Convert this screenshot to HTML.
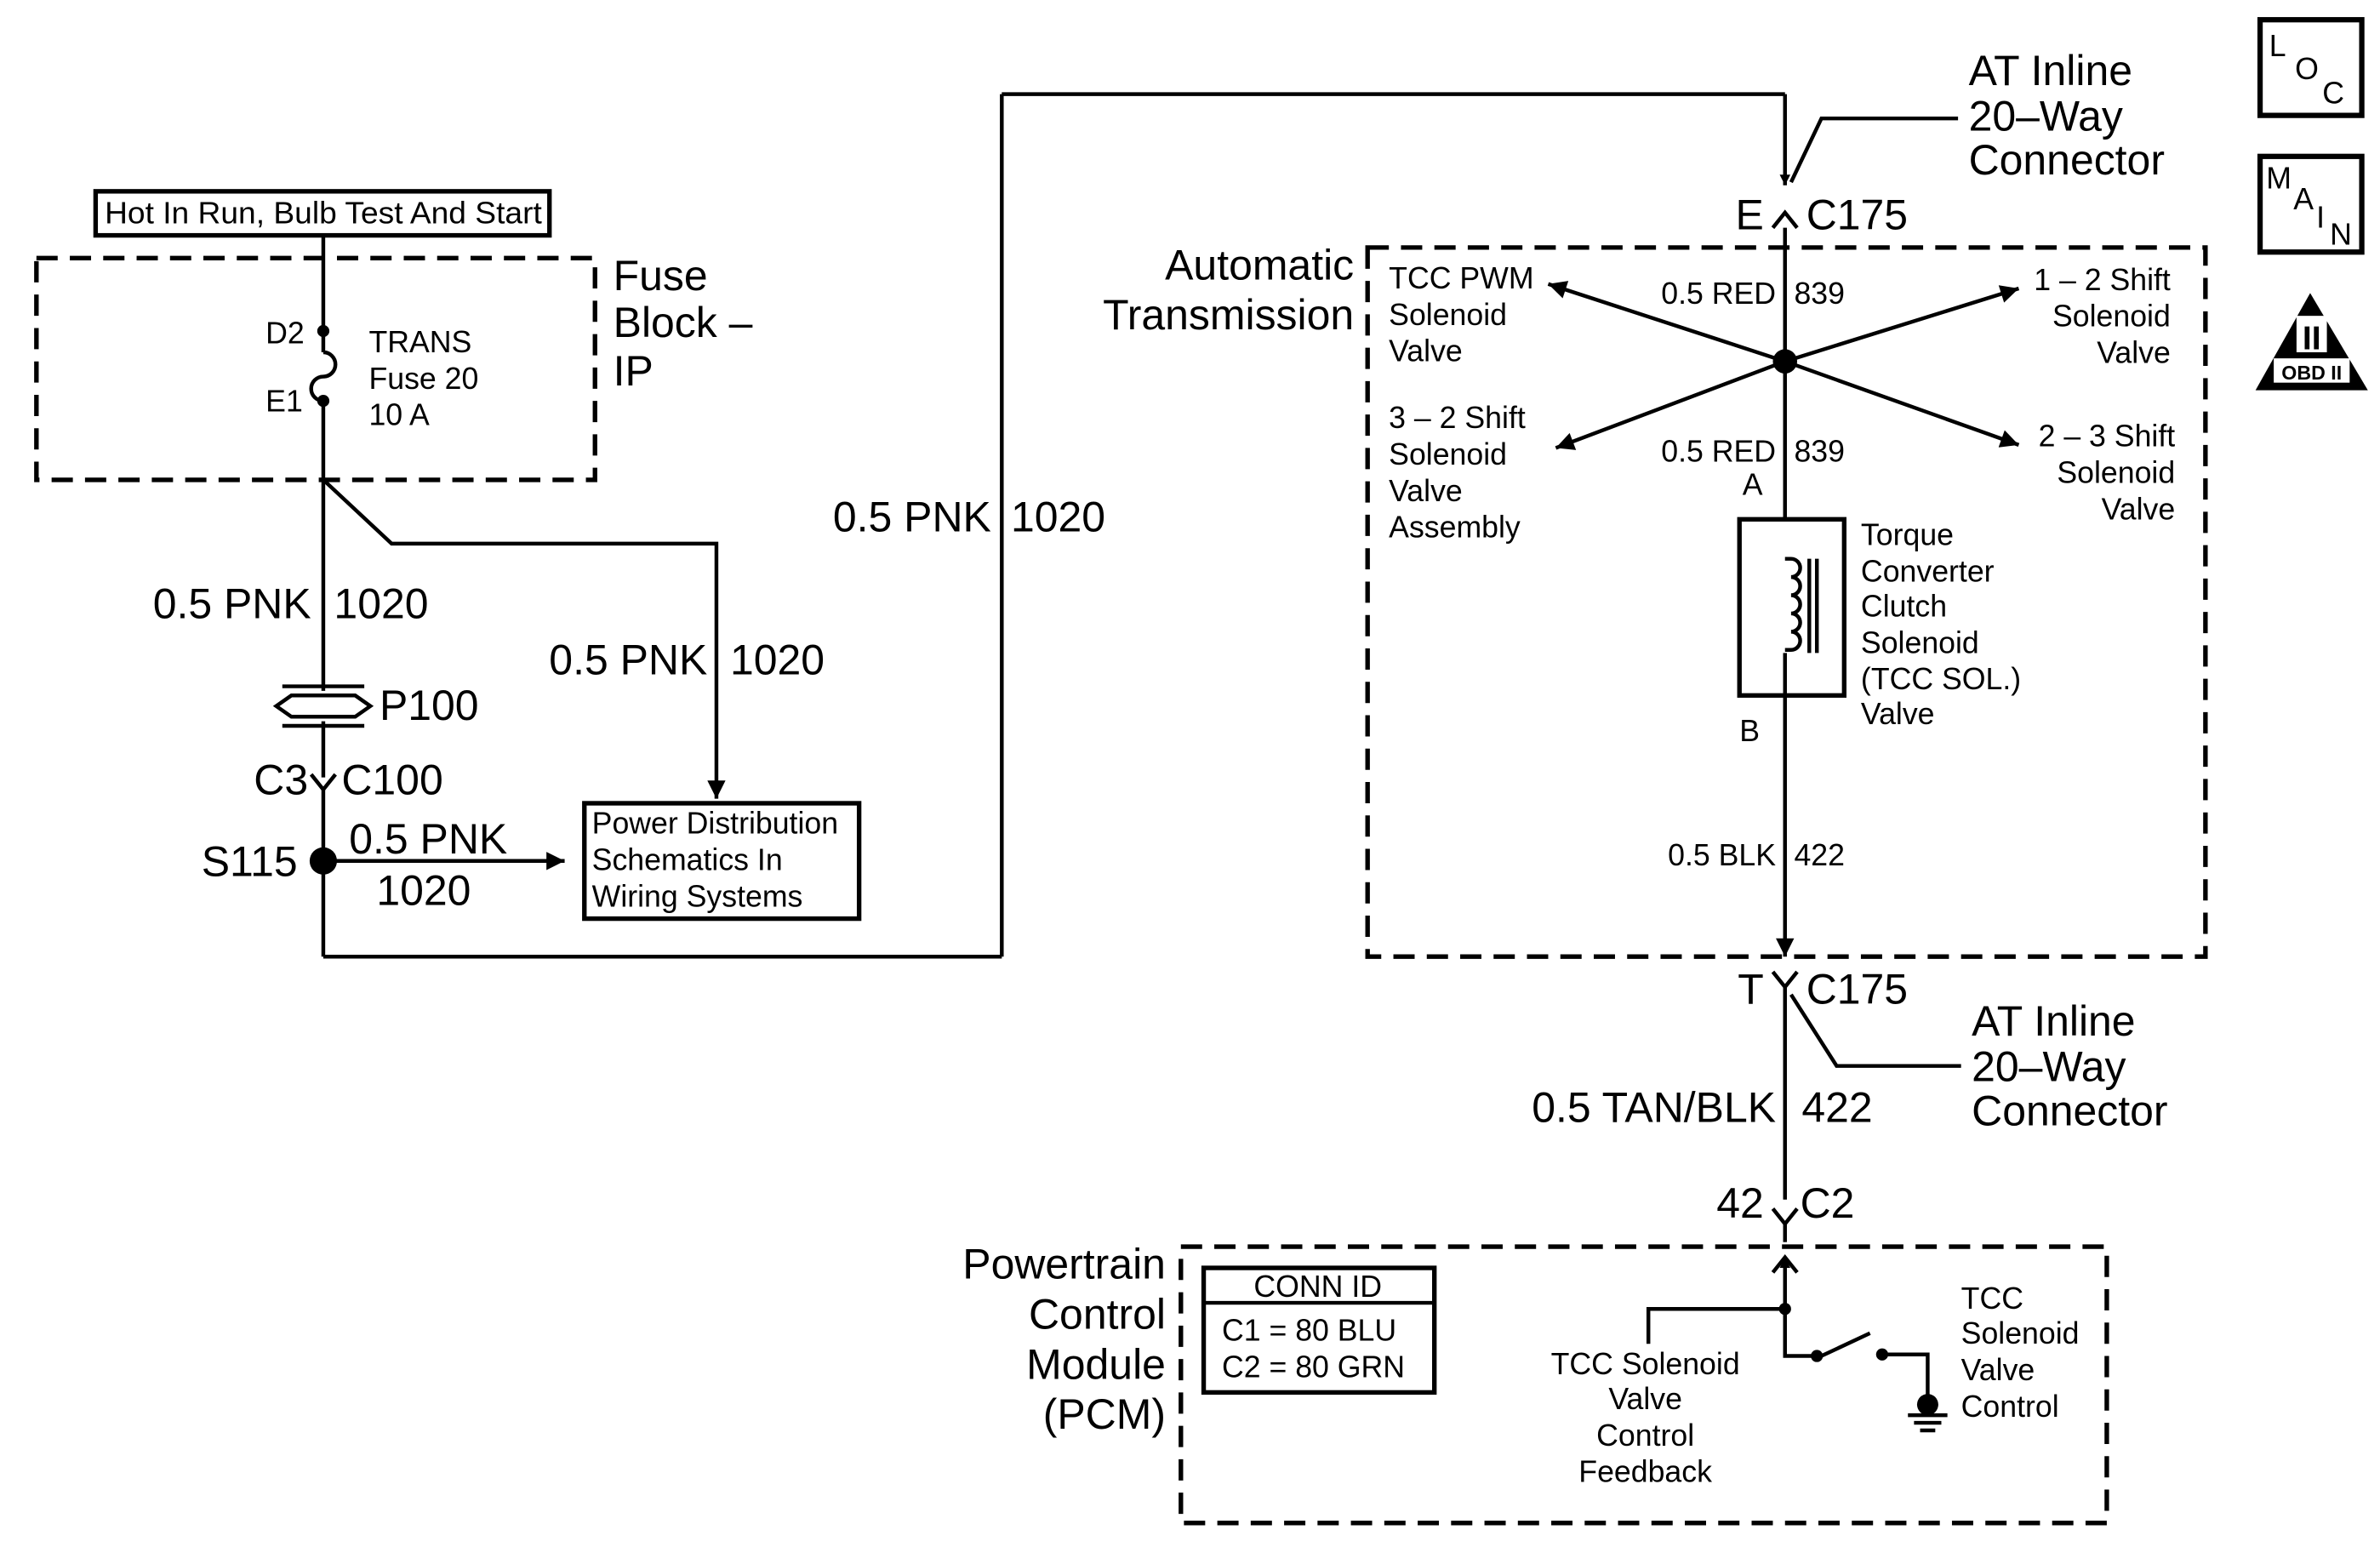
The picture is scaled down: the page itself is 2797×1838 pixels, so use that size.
<!DOCTYPE html>
<html><head><meta charset="utf-8"><style>
html,body{margin:0;padding:0;background:#fff}
svg{display:block}
text{font-family:"Liberation Sans",Arial,sans-serif;fill:#000}
</style></head><body>
<svg width="2797" height="1838" viewBox="0 0 1568 1030" preserveAspectRatio="none" xmlns="http://www.w3.org/2000/svg">
<defs>
<marker id="ah" viewBox="0 0 10 10" refX="10" refY="5" markerWidth="7" markerHeight="7" orient="auto-start-reverse" markerUnits="userSpaceOnUse">
<path d="M0,0 L10,5 L0,10 z" fill="#000"/></marker>
<marker id="ah2" viewBox="0 0 10 10" refX="10" refY="5" markerWidth="16" markerHeight="12" orient="auto" markerUnits="userSpaceOnUse">
<path d="M0,0 L10,5 L0,10 z" fill="#000"/></marker>
</defs>
<g stroke="#000" fill="none" stroke-width="2.5">
<rect x="63" y="126" width="299" height="29" stroke-width="3"/>
<rect x="24" y="170" width="368" height="146" stroke-dasharray="14,8" stroke-width="3"/>
<line x1="213" y1="155" x2="213" y2="218"/>
<path d="M213,232 a8,8 0 0 1 0,16 a8,8 0 0 0 0,16"/>
<line x1="213" y1="218" x2="213" y2="232"/>
<line x1="213" y1="264" x2="213" y2="455"/>
<line x1="213" y1="475" x2="213" y2="512"/>
<path d="M205,510 L213,520 L221,510"/>
<line x1="213" y1="520" x2="213" y2="630"/>
<line x1="213" y1="630" x2="660" y2="630"/>
<line x1="660" y1="630" x2="660" y2="62"/>
<line x1="660" y1="62" x2="1176" y2="62"/>
<line x1="1176" y1="62" x2="1176" y2="122" marker-end="url(#ah)"/>
<path d="M1168,150 L1176,140 L1184,150"/>
<polyline points="213,316 258,358 472,358 472,526" marker-end="url(#ah2)"/>
<line x1="213" y1="567" x2="372" y2="567" marker-end="url(#ah2)"/>
<rect x="385" y="529" width="181" height="76" stroke-width="3"/>
<path d="M186,452 L240,452 M186,478 L240,478 M192,458 L234,458 L244,465 L234,472 L192,472 L182,465 Z" stroke-width="2.5"/>
<polyline points="1290,78 1200,78 1180,120"/>
<rect x="901" y="163" width="552" height="467" stroke-dasharray="14,8" stroke-width="3"/>
<line x1="1176" y1="238" x2="1020" y2="187" marker-end="url(#ah2)"/>
<line x1="1176" y1="238" x2="1330" y2="190" marker-end="url(#ah2)"/>
<line x1="1176" y1="238" x2="1025" y2="295" marker-end="url(#ah2)"/>
<line x1="1176" y1="238" x2="1330" y2="293" marker-end="url(#ah2)"/>
<line x1="1176" y1="150" x2="1176" y2="342"/>
<rect x="1146" y="342" width="69" height="116" stroke-width="3"/>
<path d="M1176,368 h4 a6,6 0 0 1 0,12 a6,6 0 0 1 0,12 a6,6 0 0 1 0,12 a6,6 0 0 1 0,12 a6,6 0 0 1 0,12 h-4" />
<line x1="1192" y1="368" x2="1192" y2="430"/>
<line x1="1197" y1="368" x2="1197" y2="430"/>
<line x1="1176" y1="430" x2="1176" y2="458"/>
<line x1="1176" y1="458" x2="1176" y2="630" marker-end="url(#ah2)"/>
<path d="M1168,640 L1176,650 L1184,640"/>
<line x1="1176" y1="650" x2="1176" y2="790"/>
<polyline points="1180,655 1210,702 1292,702"/>
<path d="M1168,796 L1176,806 L1184,796"/>
<line x1="1176" y1="806" x2="1176" y2="818"/>
<rect x="778" y="821" width="610" height="182" stroke-dasharray="14,8" stroke-width="3"/>
<line x1="1176" y1="862" x2="1176" y2="828" marker-end="url(#ah)"/>
<path d="M1168,838 L1176,828 L1184,838"/>
<polyline points="1086,885 1086,862 1176,862 1176,893 1197,893"/>
<line x1="1200" y1="893" x2="1232" y2="878"/>
<polyline points="1240,892 1270,892 1270,920"/>
<rect x="793" y="835" width="152" height="82" stroke-width="3"/>
<line x1="793" y1="858" x2="945" y2="858"/>
<line x1="1257" y1="932" x2="1283" y2="932"/>
<line x1="1261" y1="937" x2="1279" y2="937"/>
<line x1="1265" y1="942" x2="1275" y2="942"/>
<rect x="1489" y="13" width="67" height="63" stroke-width="3.5"/>
<rect x="1489" y="103" width="67" height="63" stroke-width="3.5"/>
</g>
<g fill="#000">
<circle cx="213" cy="218" r="4"/><circle cx="213" cy="264" r="4"/>
<circle cx="213" cy="567" r="9"/>
<circle cx="1176" cy="238" r="8"/>
<circle cx="1176" cy="862" r="4"/><circle cx="1197" cy="893" r="4"/><circle cx="1240" cy="892" r="4"/>
<circle cx="1270" cy="925" r="7"/>
<path d="M1522,193 L1560,257 L1486,257 Z"/>
</g>
<rect x="1498" y="236" width="50" height="16" fill="#fff"/>
<rect x="1513" y="208" width="20" height="24" fill="#fff"/>
<text x="1523" y="230" font-size="22" font-weight="bold" text-anchor="middle">II</text>
<text x="1523" y="250" font-size="13" font-weight="bold" text-anchor="middle">OBD II</text>
<g font-size="20">
<text x="1495" y="37">L</text><text x="1512" y="52">O</text><text x="1530" y="68">C</text>
<text x="1493" y="124">M</text><text x="1511" y="138">A</text><text x="1526" y="150">I</text><text x="1535" y="161">N</text>
</g>
<g font-size="20">
<text x="69" y="147" textLength="288" lengthAdjust="spacingAndGlyphs">Hot In Run, Bulb Test And Start</text>
<text x="243" y="232">TRANS</text><text x="243" y="256">Fuse 20</text><text x="243" y="280">10 A</text>
<text x="175" y="226">D2</text><text x="175" y="271">E1</text>
<text x="390" y="549">Power Distribution</text><text x="390" y="573">Schematics In</text><text x="390" y="597">Wiring Systems</text>
<text x="915" y="190">TCC PWM</text><text x="915" y="214">Solenoid</text><text x="915" y="238">Valve</text>
<text x="915" y="282">3 – 2 Shift</text><text x="915" y="306">Solenoid</text><text x="915" y="330">Valve</text><text x="915" y="354">Assembly</text>
<g text-anchor="end"><text x="1430" y="191">1 – 2 Shift</text><text x="1430" y="215">Solenoid</text><text x="1430" y="239">Valve</text>
<text x="1433" y="294">2 – 3 Shift</text><text x="1433" y="318">Solenoid</text><text x="1433" y="342">Valve</text>
<text x="1170" y="200">0.5 RED</text><text x="1170" y="304">0.5 RED</text><text x="1170" y="570">0.5 BLK</text></g>
<text x="1182" y="200">839</text><text x="1182" y="304">839</text><text x="1182" y="570">422</text>
<text x="1148" y="326">A</text><text x="1146" y="488">B</text>
<text x="1226" y="359">Torque</text><text x="1226" y="383">Converter</text><text x="1226" y="406">Clutch</text><text x="1226" y="430">Solenoid</text><text x="1226" y="454">(TCC  SOL.)</text><text x="1226" y="477">Valve</text>
<text x="826" y="854">CONN ID</text><text x="805" y="883">C1  =  80 BLU</text><text x="805" y="907">C2  =  80 GRN</text>
<g text-anchor="middle"><text x="1084" y="905">TCC Solenoid</text><text x="1084" y="928">Valve</text><text x="1084" y="952">Control</text><text x="1084" y="976">Feedback</text></g>
<text x="1292" y="862">TCC</text><text x="1292" y="885">Solenoid</text><text x="1292" y="909">Valve</text><text x="1292" y="933">Control</text>
</g>
<g font-size="28">
<text x="404" y="191">Fuse</text><text x="404" y="222">Block –</text><text x="404" y="254">IP</text>
<text x="205" y="407" text-anchor="end">0.5 PNK</text><text x="220" y="407">1020</text>
<text x="466" y="444" text-anchor="end">0.5 PNK</text><text x="481" y="444">1020</text>
<text x="653" y="350" text-anchor="end">0.5 PNK</text><text x="666" y="350">1020</text>
<text x="250" y="474">P100</text>
<text x="203" y="523" text-anchor="end">C3</text><text x="225" y="523">C100</text>
<text x="196" y="577" text-anchor="end">S115</text>
<text x="230" y="562">0.5 PNK</text><text x="248" y="596">1020</text>
<text x="1297" y="56">AT Inline</text><text x="1297" y="86">20–Way</text><text x="1297" y="115">Connector</text>
<text x="1162" y="151" text-anchor="end">E</text><text x="1190" y="151">C175</text>
<text x="892" y="184" text-anchor="end">Automatic</text><text x="892" y="217" text-anchor="end">Transmission</text>
<text x="1162" y="661" text-anchor="end">T</text><text x="1190" y="661">C175</text>
<text x="1299" y="682">AT Inline</text><text x="1299" y="712">20–Way</text><text x="1299" y="741">Connector</text>
<text x="1170" y="739" text-anchor="end">0.5 TAN/BLK</text><text x="1187" y="739">422</text>
<text x="1162" y="802" text-anchor="end">42</text><text x="1186" y="802">C2</text>
<g text-anchor="end"><text x="768" y="842">Powertrain</text><text x="768" y="875">Control</text><text x="768" y="908">Module</text><text x="768" y="941">(PCM)</text></g>
</g>
</svg>
</body></html>
